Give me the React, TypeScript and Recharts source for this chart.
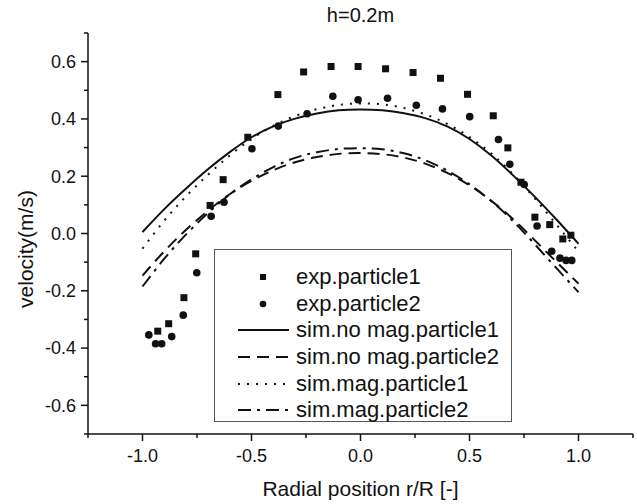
import React from 'react';
import { ComposedChart, Line, Scatter, XAxis, YAxis, Legend, Label } from 'recharts';

// radial positions used by the simulation curves
const SIM_X = [-1.0, -0.9, -0.8, -0.7, -0.6, -0.5, -0.4, -0.3, -0.2, -0.1, 0.0, 0.1, 0.2, 0.3, 0.4, 0.5, 0.6, 0.7, 0.8, 0.9, 1.0];
const SIM_NOMAG_P1 = [0.005, 0.085, 0.157, 0.224, 0.284, 0.336, 0.374, 0.401, 0.419, 0.43, 0.433, 0.43, 0.42, 0.402, 0.373, 0.33, 0.272, 0.203, 0.128, 0.048, -0.036];
const SIM_NOMAG_P2 = [-0.147, -0.062, 0.013, 0.079, 0.137, 0.184, 0.221, 0.249, 0.267, 0.278, 0.281, 0.277, 0.265, 0.243, 0.211, 0.168, 0.114, 0.05, -0.024, -0.1, -0.175];
const SIM_MAG_P1 = [-0.053, 0.045, 0.13, 0.205, 0.272, 0.33, 0.376, 0.41, 0.434, 0.449, 0.454, 0.451, 0.438, 0.415, 0.382, 0.337, 0.279, 0.207, 0.122, 0.03, -0.063];
const SIM_MAG_P2 = [-0.185, -0.088, -0.003, 0.071, 0.136, 0.189, 0.232, 0.264, 0.284, 0.295, 0.298, 0.294, 0.28, 0.255, 0.219, 0.172, 0.113, 0.043, -0.038, -0.122, -0.205];

// experiment, particle 1 (squares)
const EXP1_X = [-0.93, -0.88, -0.81, -0.756, -0.69, -0.63, -0.517, -0.379, -0.261, -0.135, -0.011, 0.115, 0.241, 0.367, 0.491, 0.609, 0.676, 0.736, 0.8, 0.868, 0.928, 0.965];
const EXP1_V = [-0.341, -0.315, -0.224, -0.071, 0.098, 0.188, 0.336, 0.485, 0.564, 0.583, 0.583, 0.575, 0.562, 0.542, 0.486, 0.411, 0.299, 0.179, 0.057, 0.031, -0.019, -0.006];

// experiment, particle 2 (circles)
const EXP2_X = [-0.971, -0.94, -0.912, -0.866, -0.813, -0.751, -0.685, -0.626, -0.498, -0.377, -0.245, -0.127, -0.011, 0.124, 0.256, 0.376, 0.501, 0.633, 0.685, 0.751, 0.81, 0.877, 0.915, 0.943, 0.969];
const EXP2_V = [-0.354, -0.385, -0.385, -0.36, -0.285, -0.137, 0.06, 0.109, 0.296, 0.375, 0.418, 0.479, 0.467, 0.472, 0.448, 0.435, 0.408, 0.328, 0.242, 0.171, 0.026, -0.062, -0.086, -0.094, -0.094];

const X_TICKS = [-1.25, -1.0, -0.75, -0.5, -0.25, 0.0, 0.25, 0.5, 0.75, 1.0, 1.25];
const X_MAJOR = [-1.0, -0.5, 0.0, 0.5, 1.0];
const Y_TICKS = [-0.7, -0.6, -0.5, -0.4, -0.3, -0.2, -0.1, 0.0, 0.1, 0.2, 0.3, 0.4, 0.5, 0.6, 0.7];
const Y_MAJOR = [-0.6, -0.4, -0.2, 0.0, 0.2, 0.4, 0.6];

const LEGEND_ITEMS = [
  { label: 'exp.particle1', kind: 'square' },
  { label: 'exp.particle2', kind: 'circle' },
  { label: 'sim.no mag.particle1', kind: 'line', dash: '' },
  { label: 'sim.no mag.particle2', kind: 'line', dash: '12 7' },
  { label: 'sim.mag.particle1', kind: 'line', dash: '2 7' },
  { label: 'sim.mag.particle2', kind: 'line', dash: '13 6 3 6' },
];

const FONT = '"Liberation Sans", Arial, sans-serif';
const INK = '#111';

const pairs = (xs: number[], vs: number[]) => xs.map((x, i) => ({ x, v: vs[i] }));
const isMajor = (list: number[], v: number) => list.some((m) => Math.abs(m - v) < 1e-6);

const XTick = (props: any) => {
  const { x, y, payload } = props;
  const major = isMajor(X_MAJOR, payload.value);
  return (
    <g>
      <line x1={x} x2={x} y1={y} y2={y + (major ? 7 : 4)} stroke={INK} strokeWidth={1.5} />
      {major && (
        <text x={x} y={y + 28} textAnchor="middle" fontSize={18} fontFamily={FONT} fill={INK}>
          {payload.value.toFixed(1)}
        </text>
      )}
    </g>
  );
};

const YTick = (props: any) => {
  const { x, y, payload } = props;
  const major = isMajor(Y_MAJOR, payload.value);
  return (
    <g>
      <line x1={x} x2={x - (major ? 7 : 4)} y1={y} y2={y} stroke={INK} strokeWidth={1.5} />
      {major && (
        <text x={x - 12} y={y} dy="0.35em" textAnchor="end" fontSize={18} fontFamily={FONT} fill={INK}>
          {payload.value.toFixed(1)}
        </text>
      )}
    </g>
  );
};

const SquareDot = (p: any) => <rect x={p.cx - 3.5} y={p.cy - 3.5} width={7} height={7} fill={INK} />;
const RoundDot = (p: any) => <circle cx={p.cx} cy={p.cy} r={3.8} fill={INK} />;

const LegendBox = () => (
  <div
    style={{
      width: 298, height: 173, boxSizing: 'border-box', border: '1px solid #555',
      background: '#fff', paddingTop: 14, fontFamily: FONT, fontSize: 22, color: INK,
    }}
  >
    {LEGEND_ITEMS.map((it) => (
      <div key={it.label} style={{ height: 26.6, display: 'flex', alignItems: 'center', whiteSpace: 'nowrap' }}>
        <svg width={51} height={20} style={{ marginLeft: 23, marginRight: 7 }}>
          {it.kind === 'square' && <rect x={22} y={7} width={6} height={6} fill={INK} />}
          {it.kind === 'circle' && <circle cx={25} cy={10} r={3.3} fill={INK} />}
          {it.kind === 'line' && (
            <line x1={0} x2={51} y1={10} y2={10} stroke={INK} strokeWidth={2} strokeDasharray={it.dash || undefined} />
          )}
        </svg>
        <span>{it.label}</span>
      </div>
    ))}
  </div>
);

export default function App() {
  return (
    <div style={{ position: 'absolute', left: 0, top: 0, width: 637, height: 504, background: '#fff' }}>
      <div style={{ position: 'absolute', left: 88, top: 4, width: 545, textAlign: 'center', fontFamily: FONT, fontSize: 20, color: INK }}>
        h=0.2m
      </div>
      <ComposedChart width={637} height={504} margin={{ top: 33, right: 4, left: 28, bottom: 0 }}>
        <XAxis
          type="number"
          dataKey="x"
          domain={[-1.25, 1.25]}
          ticks={X_TICKS}
          interval={0}
          tickSize={0}
          tickMargin={0}
          tickLine={false}
          tick={<XTick />}
          height={70}
          axisLine={{ stroke: INK, strokeWidth: 1.5 }}
          allowDataOverflow
        >
          <Label
            content={(p: any) => (
              <text x={p.viewBox.x + p.viewBox.width / 2} y={p.viewBox.y + 62} textAnchor="middle" fontSize={21} fontFamily={FONT} fill={INK}>
                Radial position r/R [-]
              </text>
            )}
          />
        </XAxis>
        <YAxis
          type="number"
          dataKey="v"
          domain={[-0.7, 0.7]}
          ticks={Y_TICKS}
          interval={0}
          tickSize={0}
          tickMargin={0}
          tickLine={false}
          tick={<YTick />}
          width={60}
          axisLine={{ stroke: INK, strokeWidth: 1.5 }}
          allowDataOverflow
        >
          <Label
            content={(p: any) => {
              const cx = p.viewBox.x - 2;
              const cy = p.viewBox.y + 216;
              return (
                <text x={cx} y={cy} transform={`rotate(-90 ${cx} ${cy})`} dy="0.35em" textAnchor="middle" fontSize={21} fontFamily={FONT} fill={INK}>
                  velocity(m/s)
                </text>
              );
            }}
          />
        </YAxis>
        <Legend
          layout="vertical"
          align="center"
          verticalAlign="middle"
          content={() => <LegendBox />}
          wrapperStyle={{ left: 214, top: 249, width: 298, height: 173 }}
        />
        <Line data={pairs(SIM_X, SIM_NOMAG_P1)} dataKey="v" type="natural" stroke={INK} strokeWidth={2} dot={false} isAnimationActive={false} />
        <Line data={pairs(SIM_X, SIM_NOMAG_P2)} dataKey="v" type="natural" stroke={INK} strokeWidth={2} strokeDasharray="12 7" dot={false} isAnimationActive={false} />
        <Line data={pairs(SIM_X, SIM_MAG_P1)} dataKey="v" type="natural" stroke={INK} strokeWidth={2} strokeDasharray="2 7" dot={false} isAnimationActive={false} />
        <Line data={pairs(SIM_X, SIM_MAG_P2)} dataKey="v" type="natural" stroke={INK} strokeWidth={2} strokeDasharray="13 6 3 6" dot={false} isAnimationActive={false} />
        <Scatter data={pairs(EXP1_X, EXP1_V)} dataKey="v" shape={SquareDot} isAnimationActive={false} />
        <Scatter data={pairs(EXP2_X, EXP2_V)} dataKey="v" shape={RoundDot} isAnimationActive={false} />
      </ComposedChart>
    </div>
  );
}
